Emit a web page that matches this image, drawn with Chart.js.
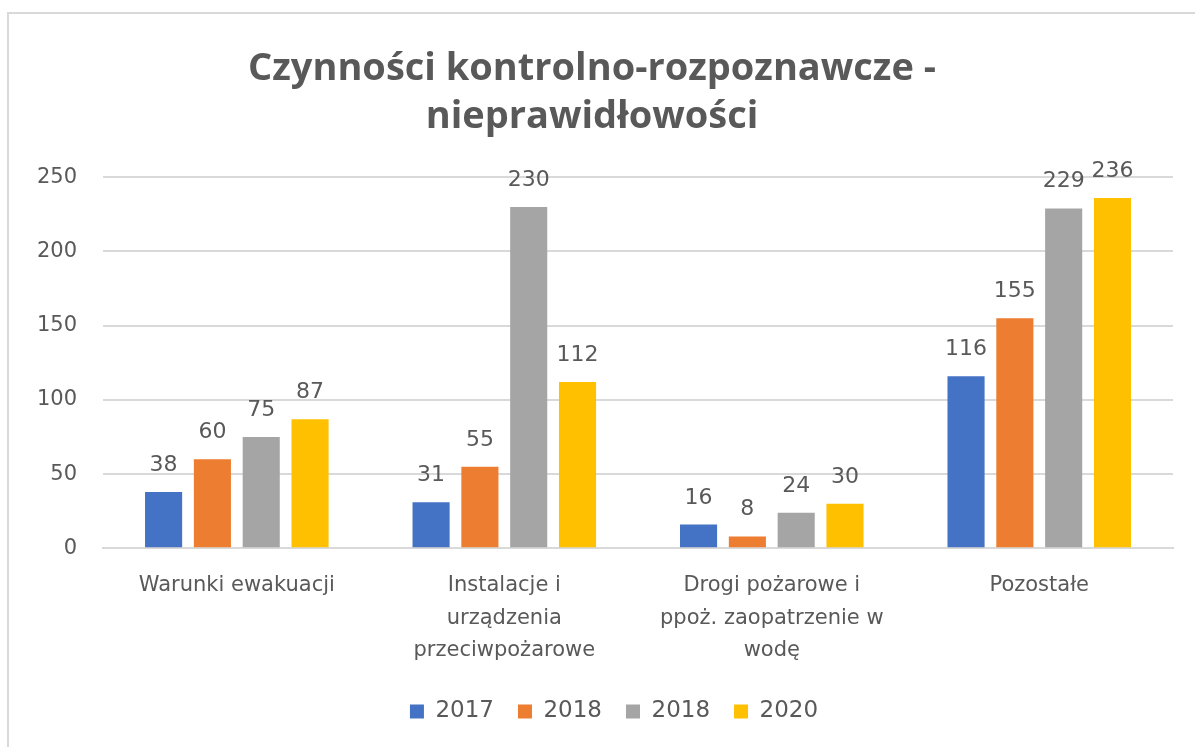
<!DOCTYPE html>
<html>
<head>
<meta charset="utf-8">
<script src="https://cdn.jsdelivr.net/npm/chart.js@4"></script>
<style>
  html, body { margin: 0; padding: 0; background: #fff; overflow: hidden; }
  #wrap { position: absolute; left: 0; top: 0; width: 1195px; height: 747px; }
  #frame { position: absolute; left: 7px; top: 12px; width: 1200px; height: 760px;
           border: 2px solid #d9d9d9; box-sizing: border-box; pointer-events: none; }
</style>
</head>
<body>
<div id="wrap"><canvas id="chartCanvas" width="1195" height="747"></canvas></div>
<div id="frame"></div>
<script>
const categories = [
  'Warunki ewakuacji',
  ['Instalacje i', 'urządzenia', 'przeciwpożarowe'],
  ['Drogi pożarowe i', 'ppoż. zaopatrzenie w', 'wodę'],
  'Pozostałe'
];
const seriesNames = ['2017', '2018', '2018', '2020'];
const values2017 = [38, 31, 16, 116];
const values2018 = [60, 55, 8, 155];
const values2018b = [75, 230, 24, 229];
const values2020 = [87, 112, 30, 236];
const yTicks = [0, 50, 100, 150, 200, 250];

const colors = ['#4472C4', '#ED7D31', '#A5A5A5', '#FFC000'];
const textColor = '#595959';

// draws the value above each bar (no datalabels plugin available)
const barLabels = {
  id: 'barLabels',
  afterLayout(chart) {
    // legend sits a bit right of the canvas centre in the original
    chart.legend.left += 44;
  },
  afterDatasetsDraw(chart) {
    const ctx = chart.ctx;
    ctx.save();
    ctx.font = '22px "DejaVu Sans"';
    ctx.fillStyle = textColor;
    ctx.textAlign = 'center';
    ctx.textBaseline = 'alphabetic';
    chart.data.datasets.forEach((ds, i) => {
      chart.getDatasetMeta(i).data.forEach((bar, j) => {
        ctx.fillText(String(ds.data[j]), bar.x, bar.y - 21);
      });
    });
    ctx.restore();
  }
};

const allValues = [values2017, values2018, values2018b, values2020];

const data = {
  labels: categories,
  datasets: allValues.map((vals, i) => ({
    label: seriesNames[i],
    data: vals,
    backgroundColor: colors[i],
    borderWidth: 0,
    categoryPercentage: 0.73,
    barPercentage: 0.76,
  })),
};

const myChart = new Chart(document.getElementById('chartCanvas'), {
  type: 'bar',
  data: data,
  plugins: [barLabels],
  options: {
    responsive: false,
    animation: false,
    layout: { padding: { left: 11, right: 22, top: 46, bottom: 14 } },
    plugins: {
      title: {
        display: true,
        text: ['Czynności kontrolno-rozpoznawcze -', 'nieprawidłowości'],
        color: textColor,
        font: { family: '"Open Sans"', size: 38, weight: 'bold', lineHeight: 1.24 },
        padding: { top: 0, bottom: 37 },
      },
      legend: {
        position: 'bottom',
        labels: {
          color: textColor,
          font: { family: '"DejaVu Sans"', size: 23 },
          boxWidth: 14,
          boxHeight: 14,
          padding: 24,
        },
      },
      tooltip: { enabled: false },
    },
    scales: {
      x: {
        grid: { display: false },
        border: { color: '#d9d9d9', width: 2 },
        ticks: {
          color: textColor,
          font: { family: '"DejaVu Sans"', size: 21, lineHeight: 1.55 },
          maxRotation: 0,
          padding: 13,
        },
        afterFit: (axis) => { axis.height -= 4; },
      },
      y: {
        min: 0,
        max: 250,
        afterBuildTicks: (axis) => { axis.ticks = yTicks.map(v => ({ value: v })); },
        grid: { color: '#d9d9d9', lineWidth: 2, drawTicks: false },
        border: { display: false },
        ticks: {
          color: textColor,
          font: { family: '"DejaVu Sans"', size: 21 },
          padding: 26,
        },
      },
    },
  },
});
</script>
</body>
</html>
